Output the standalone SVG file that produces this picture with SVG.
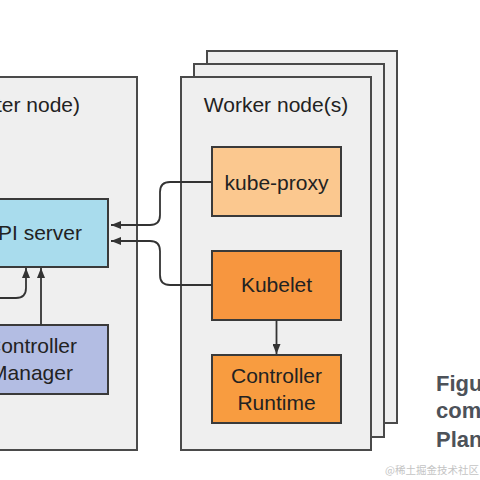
<svg xmlns="http://www.w3.org/2000/svg" width="480" height="480" viewBox="0 0 480 480">
<defs>
<style>
.box{stroke:#3a3a3a;stroke-width:2}
.node{fill:#efefef;stroke:#4a4a4a;stroke-width:2}
.t{font-family:"Liberation Sans",Arial,sans-serif;font-size:21px;fill:#222}
.c{text-anchor:middle}
.con{fill:none;stroke:#333;stroke-width:1.8}
.cap{font-family:"Liberation Sans",Arial,sans-serif;font-size:22px;font-weight:bold;fill:#4d5259}
</style>
<marker id="ah" viewBox="0 0 10 8" refX="10" refY="4" markerWidth="10" markerHeight="8" markerUnits="userSpaceOnUse" orient="auto">
<path d="M0,0 L10,4 L0,8 Z" fill="#333"/>
</marker>
</defs>
<rect width="480" height="480" fill="#ffffff"/>
<g id="master-node">
<rect class="node" x="-10" y="77" width="147" height="373"/>
<text class="t" x="80" y="112" text-anchor="end">ter node)</text>
</g>
<g id="worker-nodes">
<rect class="node" x="207" y="51" width="190" height="372"/>
<rect class="node" x="194" y="64" width="190" height="373"/>
<rect class="node" x="181" y="77" width="190" height="373"/>
<text class="t c" x="276" y="112">Worker node(s)</text>
</g>
<g id="api-server">
<rect class="box" x="-10" y="199" width="118" height="68" fill="#a9dced"/>
<text class="t" x="82" y="240" text-anchor="end">PI server</text>
</g>
<g id="controller-manager">
<rect class="box" x="-10" y="325" width="118" height="69" fill="#b3bde3"/>
<text class="t c" x="31.5" y="353">Controller</text>
<text class="t c" x="31.5" y="380">Manager</text>
</g>
<g id="kube-proxy">
<rect class="box" x="212" y="147" width="129" height="69" fill="#fbc88f"/>
<text class="t c" x="276.5" y="190">kube-proxy</text>
</g>
<g id="kubelet">
<rect class="box" x="212" y="251" width="129" height="69" fill="#f7963f"/>
<text class="t c" x="276.5" y="292">Kubelet</text>
</g>
<g id="controller-runtime">
<rect class="box" x="212" y="355" width="129" height="68" fill="#f89c40"/>
<text class="t c" x="276.5" y="383">Controller</text>
<text class="t c" x="276.5" y="410">Runtime</text>
</g>
<g id="connectors">
<path class="con" d="M212,182 H170 Q160,182 160,192 V215 Q160,225 150,225 H111" marker-end="url(#ah)"/>
<path class="con" d="M212,285 H170 Q160,285 160,275 V251 Q160,241 150,241 H111" marker-end="url(#ah)"/>
<path class="con" d="M-5,298 H16 Q26,298 26,288 V268" marker-end="url(#ah)"/>
<path class="con" d="M41,325 V268" marker-end="url(#ah)"/>
<path class="con" d="M276.5,320 V354" marker-end="url(#ah)"/>
</g>
<g id="caption">
<text class="cap" x="436" y="391">Figu</text>
<text class="cap" x="436" y="418">com</text>
<text class="cap" x="436" y="447">Plan</text>
</g>
<text x="385" y="474" font-family="'Noto Sans CJK SC',sans-serif" font-size="10.5" fill="#c4c4c4">@稀土掘金技术社区</text>
</svg>
